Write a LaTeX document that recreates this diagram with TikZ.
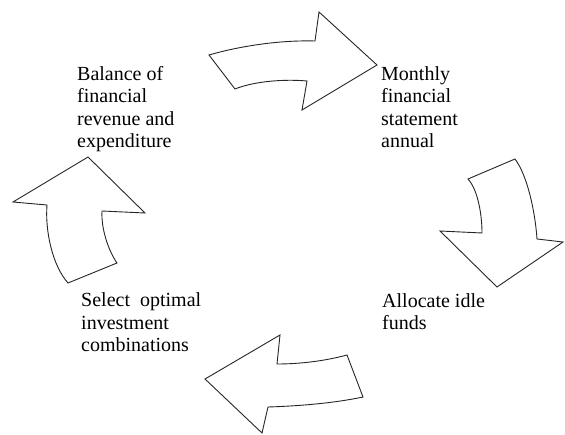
\documentclass[tikz,border=0pt]{standalone}
\usepackage{fontspec}
\setmainfont{Liberation Serif}
\begin{document}
\begin{tikzpicture}[x=1pt,y=-1pt,
  arrowshape/.style={draw=black!85, line width=0.9pt, line join=miter, fill=white},
  txt/.style={font=\fontsize{20}{22.5}\selectfont, align=left, inner sep=0pt, anchor=base west}]
\useasboundingbox (0,0) rectangle (565,435);
% top arrow
\draw[arrowshape] (209,55) .. controls (240,46) and (280,40) .. (315,41)
  -- (319,12) -- (377,65) -- (302,110) -- (307,81)
  .. controls (285,79) and (255,81) .. (235,89) -- cycle;
% right arrow
\draw[arrowshape] (468,179) -- (515,159)
  .. controls (527,175) and (535,210) .. (537,239)
  -- (563,242) -- (497,287) -- (440,231) -- (482,233)
  .. controls (482,215) and (478,190) .. (468,179) -- cycle;
% bottom arrow
\draw[arrowshape] (347,355) -- (363,397)
  .. controls (335,403) and (300,406) .. (268,407)
  -- (262,433) -- (205,379) -- (280,335) -- (277,364)
  .. controls (300,364) and (325,361) .. (347,355) -- cycle;
% left arrow
\draw[arrowshape] (88,157) -- (13,202) -- (47,205)
  .. controls (45,230) and (52,265) .. (68,283)
  -- (117,263)
  .. controls (108,250) and (101,228) .. (102,211)
  -- (145,213) -- cycle;
% texts (anchored at the baseline of the last line)
\node[txt] (bal) at (77,148) {Balance of\\financial\\revenue and\\expenditure};
\node[txt] (mon) at (381,148) {Monthly\\financial\\statement\\annual};
\node[txt] (sel) at (81,352) {Select\ \ optimal\\investment\\combinations};
\node[txt] (all) at (382,330) {Allocate idle\\funds};
\end{tikzpicture}
\end{document}
